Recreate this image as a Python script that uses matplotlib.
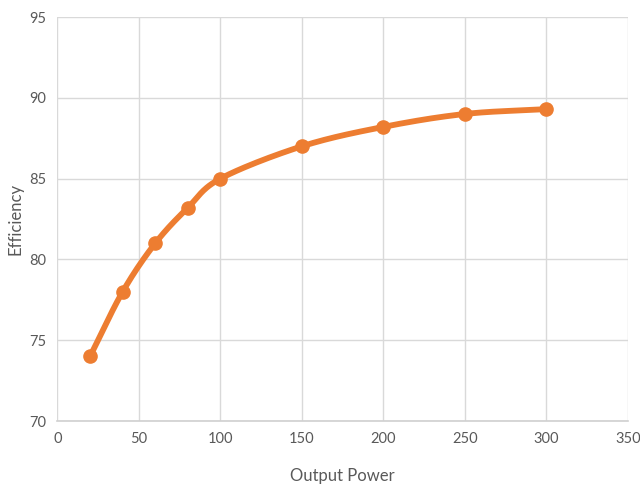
import numpy as np
import matplotlib
matplotlib.use("Agg")
import matplotlib.pyplot as plt

power = [20, 40, 60, 80, 100, 150, 200, 250, 300]
efficiency = [74, 78, 81, 83.2, 85, 87, 88.2, 89, 89.3]

def catmull_rom(xs, ys, n=30):
    xs = np.asarray(xs, float); ys = np.asarray(ys, float)
    px = np.concatenate([[2*xs[0]-xs[1]], xs, [2*xs[-1]-xs[-2]]])
    py = np.concatenate([[2*ys[0]-ys[1]], ys, [2*ys[-1]-ys[-2]]])
    outx, outy = [], []
    for i in range(1, len(px)-2):
        t = np.linspace(0, 1, n)
        for arr, out in ((px, outx), (py, outy)):
            p0, p1, p2, p3 = arr[i-1], arr[i], arr[i+1], arr[i+2]
            b1 = p1 + (p2 - p0) / 6
            b2 = p2 - (p3 - p1) / 6
            out.extend((1-t)**3*p1 + 3*(1-t)**2*t*b1 + 3*(1-t)*t**2*b2 + t**3*p2)
    return np.array(outx), np.array(outy)

plt.rcParams['font.family'] = ['Lato', 'DejaVu Sans']
fig = plt.figure(figsize=(6.4, 4.86), dpi=100)
ax = fig.add_axes([0.0898, 0.1337, 0.8912, 0.8313])
color = '#ED7D31'
sx, sy = catmull_rom(power, efficiency)
ax.plot(sx, sy, color=color, lw=4.2, solid_capstyle='round', zorder=3)
ax.plot(power, efficiency, 'o', color=color, ms=9.5, zorder=4)

ax.set_xlim(0, 350)
ax.set_ylim(70, 95)
ax.set_xticks(range(0, 351, 50))
ax.set_yticks(range(70, 96, 5))
ax.grid(True, color='#D9D9D9', lw=1)
ax.set_axisbelow(True)
for s in ['top', 'right', 'left']:
    ax.spines[s].set_visible(False)
ax.spines['bottom'].set_color('#D0D0D0')
ax.spines['bottom'].set_linewidth(1.2)
ax.tick_params(length=0, colors='#595959', labelsize=10.5, pad=8)
ax.set_xlabel('Output Power', color='#595959', fontsize=12)
ax.set_ylabel('Efficiency', color='#595959', fontsize=12)
ax.xaxis.set_label_coords(0.5, -0.136)
ax.yaxis.set_label_coords(-0.074, 0.5)
ax.xaxis.label.set_va('center')
ax.yaxis.label.set_va('center')
fig.savefig('out.png', dpi=100)
